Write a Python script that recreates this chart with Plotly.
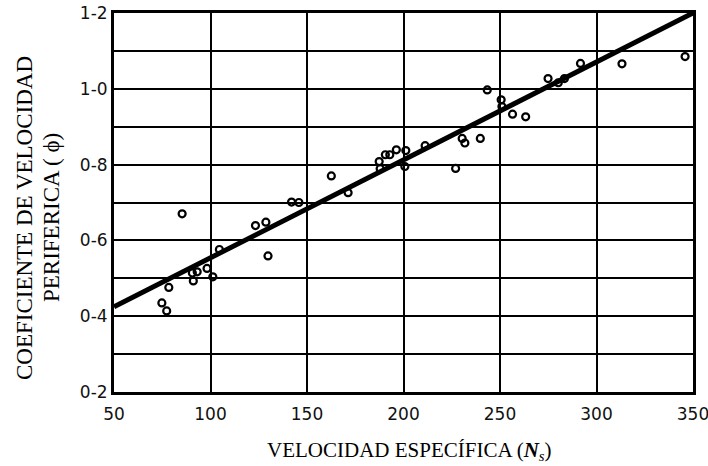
import plotly.graph_objects as go

# Measured specific speed (Ns) and peripheral velocity coefficient (phi)
ns = [74.8, 77.3, 78.4, 85.3, 90.6, 91.1, 93.1, 98.2, 101.2, 104.6,
      123.3, 128.7, 129.8, 142.0, 145.8, 162.6, 171.3, 187.4, 187.9, 190.6,
      192.9, 196.3, 201.2, 200.7, 211.2, 227.0, 230.4, 231.8, 239.8, 243.4,
      250.6, 251.0, 256.5, 263.3, 274.9, 280.2, 283.4, 291.7, 313.2, 345.9]
phi = [0.435, 0.414, 0.476, 0.670, 0.514, 0.493, 0.517, 0.526, 0.504, 0.576,
       0.639, 0.648, 0.559, 0.701, 0.700, 0.770, 0.726, 0.808, 0.789, 0.826,
       0.826, 0.839, 0.837, 0.795, 0.850, 0.790, 0.869, 0.857, 0.869, 0.997,
       0.971, 0.953, 0.933, 0.926, 1.027, 1.016, 1.027, 1.067, 1.066, 1.085]

# Trend line end points
trend_x = [50, 350]
trend_y = [0.425, 1.2]

x_ticks = [50, 100, 150, 200, 250, 300, 350]
y_ticks = [0.2, 0.4, 0.6, 0.8, 1.0, 1.2]
y_tick_text = ["0-2", "0-4", "0-6", "0-8", "1-0", "1-2"]

fig = go.Figure()
fig.add_trace(go.Scatter(
    x=trend_x, y=trend_y, mode="lines",
    line=dict(color="black", width=5), showlegend=False, hoverinfo="skip"))
fig.add_trace(go.Scatter(
    x=ns, y=phi, mode="markers",
    marker=dict(symbol="circle-open", size=7, color="black",
                line=dict(color="black", width=2.2)),
    showlegend=False))

tick_font = dict(family="DejaVu Sans", size=17, color="#111")
fig.update_xaxes(
    range=[50, 350], tickvals=x_ticks, automargin=False,
    ticks="outside", ticklen=5, tickcolor="rgba(0,0,0,0)",
    ticklabeloverflow="allow",
    showgrid=True, gridcolor="black", gridwidth=2,
    showline=True, linecolor="black", linewidth=3, mirror=True,
    zeroline=False, tickfont=tick_font)
fig.update_yaxes(
    range=[0.2, 1.2], tickvals=y_ticks, ticktext=y_tick_text, ticks="",
    automargin=False, ticklabeloverflow="allow",
    showgrid=True, gridcolor="black", gridwidth=2,
    minor=dict(dtick=0.1, tick0=0.2, showgrid=True, gridcolor="black", gridwidth=2),
    showline=True, linecolor="black", linewidth=3, mirror=True,
    zeroline=False, tickfont=tick_font)

fig.add_annotation(
    text="VELOCIDAD ESPECÍFICA (<b><i>N</i></b><sub><i>s</i></sub>)",
    xref="paper", yref="paper", x=0.511, y=-0.156, xanchor="center",
    yanchor="middle", showarrow=False,
    font=dict(family="Liberation Serif", size=21, color="black"))
y_title_font = dict(family="Liberation Serif", size=23, color="black")
fig.add_annotation(
    text="COEFICIENTE DE VELOCIDAD",
    xref="paper", yref="paper", x=-0.1554, y=0.459, xanchor="center",
    yanchor="middle", textangle=-90, showarrow=False, font=y_title_font)
fig.add_annotation(
    text="PERIFERICA ( ϕ)",
    xref="paper", yref="paper", x=-0.1088, y=0.459, xanchor="center",
    yanchor="middle", textangle=-90, showarrow=False, font=y_title_font)

fig.update_layout(
    template="none",
    width=708, height=466,
    margin=dict(l=114, r=15, t=13, b=74, pad=0),
    paper_bgcolor="white", plot_bgcolor="white")

fig.write_html("out.html")
